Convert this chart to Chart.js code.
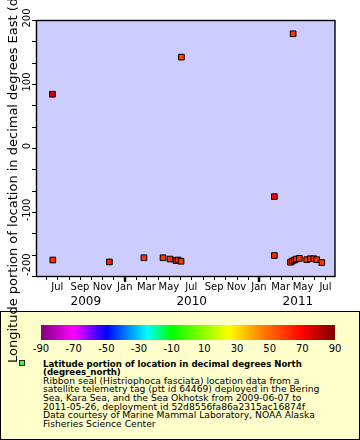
<!DOCTYPE html>
<html><head><meta charset="utf-8">
<script src="https://cdn.jsdelivr.net/npm/chart.js@4/dist/chart.umd.min.js"></script>
<style>
html,body{margin:0;padding:0;background:#fff;}
body{width:360px;height:440px;position:relative;overflow:hidden;font-family:'DejaVu Sans',sans-serif;color:#000;}
#wrap{position:absolute;left:0;top:0;width:360px;height:311px;}
#legend{position:absolute;left:0;top:311px;width:360px;height:129px;box-sizing:border-box;border:1px solid #000;background:#ffffcc;}
#cbar{position:absolute;left:41px;top:325px;width:294px;height:15px;}
.cbl{position:absolute;top:343px;font-size:10px;line-height:12px;transform:translateX(-50%);white-space:nowrap;}
#swatch{position:absolute;left:19px;top:360px;width:6px;height:6px;box-sizing:border-box;border:1px solid #222;background:#44ee44;}
#ltext{position:absolute;left:43px;top:359.5px;font-size:9.2px;line-height:8.65px;white-space:nowrap;}
#ltext b{font-weight:bold;font-size:8.6px;}
#ytitle{position:absolute;left:6px;top:363px;font-size:13px;line-height:13px;transform:rotate(-90deg);transform-origin:0 0;white-space:nowrap;z-index:5;}
</style></head>
<body>
<div id="wrap"><canvas id="c" width="360" height="311"></canvas></div>
<div id="legend"></div>
<div id="cbar"></div>
<div id="cblabels"></div>
<div id="swatch"></div>
<div id="ltext"><b>Latitude portion of location in decimal degrees North<br>(degrees_north)</b><br>Ribbon seal (Histriophoca fasciata) location data from a<br>satellite telemetry tag (ptt id 64469) deployed in the Bering<br>Sea, Kara Sea, and the Sea Okhotsk from 2009-06-07 to<br>2011-05-26, deployment id 52d8556fa86a2315ac16874f<br>Data courtesy of Marine Mammal Laboratory, NOAA Alaska<br>Fisheries Science Center</div>
<div id="ytitle">Longitude portion of location in decimal degrees East (degrees_east)</div>
<script>
// ---- data ----
const DATES = ['2009-06-18','2009-06-19','2009-11-20','2010-02-22','2010-04-15','2010-05-04','2010-05-20','2010-05-26','2010-06-03','2010-06-04','2011-02-12','2011-02-12','2011-03-28','2011-04-02','2011-04-04','2011-04-08','2011-04-13','2011-04-21','2011-05-11','2011-05-21','2011-05-30','2011-06-07','2011-06-21'];
const LON = [84,-175,-178,-171.5,-171.5,-173.5,-175.8,-175,-177,142,-76,-168,-178.5,-176.5,178.5,-175,-173.5,-172.5,-174.5,-173,-173,-174.5,-179];
const LAT = [76,61,64,60,60,60,60,60,60,57,69,62,60,60,59,60,60,60,60,60,60,60,60];
const MONTHS = ['Jan','Feb','Mar','Apr','May','Jun','Jul','Aug','Sep','Oct','Nov','Dec'];
const YEAR_LABELS = ['2009','2010','2011'];
const YEAR_CENTERS = ['2009-09-17','2010-07-02','2011-04-17'];
const Y_LABELS = [-200,-100,0,100,200];
const CBAR_TICKS = [-90,-70,-50,-30,-10,10,30,50,70,90];
const X_RANGE = ['2009-05-07','2011-07-27'];
const Y_RANGE = [-200,200];
// colormap stops (value, color)
const CMAP_V = [-90,-70,-50,-25,-10,25,45,70,90];
const CMAP_C = ['#800080','#ff00ff','#0000ff','#00ffff','#00ff00','#ffff00','#ff8000','#ff0000','#800000'];

const DAY = 86400000;
function dayNum(s){const p=s.split('-').map(Number);return Date.UTC(p[0],p[1]-1,p[2])/DAY;}
function hex(c){return [1,3,5].map(i=>parseInt(c.substr(i,2),16));}
function latColor(v){
  if(v<=CMAP_V[0]) return CMAP_C[0];
  for(let i=1;i<CMAP_V.length;i++){
    if(v<=CMAP_V[i]){
      const t=(v-CMAP_V[i-1])/(CMAP_V[i]-CMAP_V[i-1]);
      const a=hex(CMAP_C[i-1]),b=hex(CMAP_C[i]);
      const r=a.map((x,k)=>Math.round(x+(b[k]-x)*t));
      return 'rgb('+r.join(',')+')';
    }
  }
  return CMAP_C[CMAP_C.length-1];
}

// colorbar
(function(){
  const stops=CMAP_V.map((v,i)=>CMAP_C[i]+' '+((v+90)/180*100).toFixed(2)+'%');
  document.getElementById('cbar').style.background='linear-gradient(to right,'+stops.join(',')+')';
  const box=document.getElementById('cblabels');
  CBAR_TICKS.forEach(v=>{
    const s=document.createElement('div');s.className='cbl';
    s.style.left=(41+(v+90)/180*294)+'px';s.textContent=String(v);box.appendChild(s);
  });
})();

const points = DATES.map((d,i)=>({x:dayNum(d),y:LON[i]}));

const framePlugin = {
  id:'frame',
  beforeDatasetsDraw(chart){
    const {ctx,chartArea:a}=chart;
    ctx.save();ctx.fillStyle='#ccccff';
    ctx.fillRect(a.left,a.top,a.right-a.left,a.bottom-a.top);
    ctx.restore();
  },
  afterDraw(chart){
    const {ctx,chartArea:a}=chart;
    const xs=chart.scales.x, ys=chart.scales.y;
    ctx.save();
    ctx.strokeStyle='#000';ctx.fillStyle='#000';
    // frame
    ctx.lineWidth=1.4;
    ctx.strokeRect(a.left-0.5,a.top+0.5,a.right-a.left+0.5,a.bottom-a.top);
    // x tick marks
    xs.ticks.forEach(t=>{
      const px=Math.round(xs.getPixelForValue(t.value));
      const jan=new Date(t.value*DAY).getUTCMonth()===0;
      ctx.lineWidth=jan?2.5:1;
      ctx.beginPath();
      ctx.moveTo(px+(jan?0:0.5),a.bottom);ctx.lineTo(px+(jan?0:0.5),a.bottom+(jan?6:4));
      ctx.stroke();
    });
    // year labels
    ctx.font='12px "DejaVu Sans"';ctx.textAlign='center';ctx.textBaseline='middle';
    YEAR_LABELS.forEach((y,i)=>{
      ctx.fillText(y,xs.getPixelForValue(dayNum(YEAR_CENTERS[i])),302);
    });
    // y tick marks
    ctx.lineWidth=1;
    ys.ticks.forEach(t=>{
      const py=Math.round(ys.getPixelForValue(t.value))+0.5;
      ctx.beginPath();ctx.moveTo(a.left-5,py);ctx.lineTo(a.left,py);ctx.stroke();
    });
    // y labels (rotated)
    ctx.font='10px "DejaVu Sans"';ctx.textBaseline='middle';
    Y_LABELS.forEach((v,i)=>{
      const py=ys.getPixelForValue(v);
      ctx.save();
      ctx.translate(27,i===0?py:py-2);
      ctx.rotate(-Math.PI/2);
      ctx.textAlign=i===0?'left':'center';
      ctx.fillText(String(v),0,0);
      ctx.restore();
    });
    ctx.restore();
  }
};

Chart.defaults.font.family='"DejaVu Sans"';
Chart.defaults.color='#000';

new Chart(document.getElementById('c'),{
  type:'scatter',
  data:{datasets:[{
    data:points,
    pointStyle:'rect',
    pointRadius:4,
    pointHoverRadius:4,
    borderWidth:1,
    borderColor:'#000',
    backgroundColor:ctx=>latColor(LAT[ctx.dataIndex])
  }]},
  options:{
    responsive:false,animation:false,
    layout:{padding:{left:37,right:25,top:20,bottom:0}},
    plugins:{legend:{display:false},tooltip:{enabled:false}},
    scales:{
      x:{
        type:'linear',min:dayNum(X_RANGE[0]),max:dayNum(X_RANGE[1]),
        grid:{display:false,drawTicks:false},
        border:{display:false},
        afterBuildTicks(scale){
          const t=[];
          for(let y=2009;y<=2011;y++)for(let m=0;m<12;m++){
            const v=Date.UTC(y,m,1)/DAY;
            if(v>=scale.min&&v<=scale.max)t.push({value:v});
          }
          scale.ticks=t;
        },
        afterFit(scale){scale.height=35;},
        ticks:{
          autoSkip:false,maxRotation:0,minRotation:0,padding:5,
          font:{size:10},
          callback:(v)=>{const m=new Date(v*DAY).getUTCMonth();return m%2===0?MONTHS[m]:'';}
        }
      },
      y:{
        type:'linear',min:Y_RANGE[0],max:Y_RANGE[1],display:false,
        afterBuildTicks(scale){
          const t=[];
          for(let k=0;k<=12;k++)t.push({value:Y_RANGE[0]+k*100/3});
          scale.ticks=t;
        }
      }
    }
  },
  plugins:[framePlugin]
});
</script>
</body></html>
